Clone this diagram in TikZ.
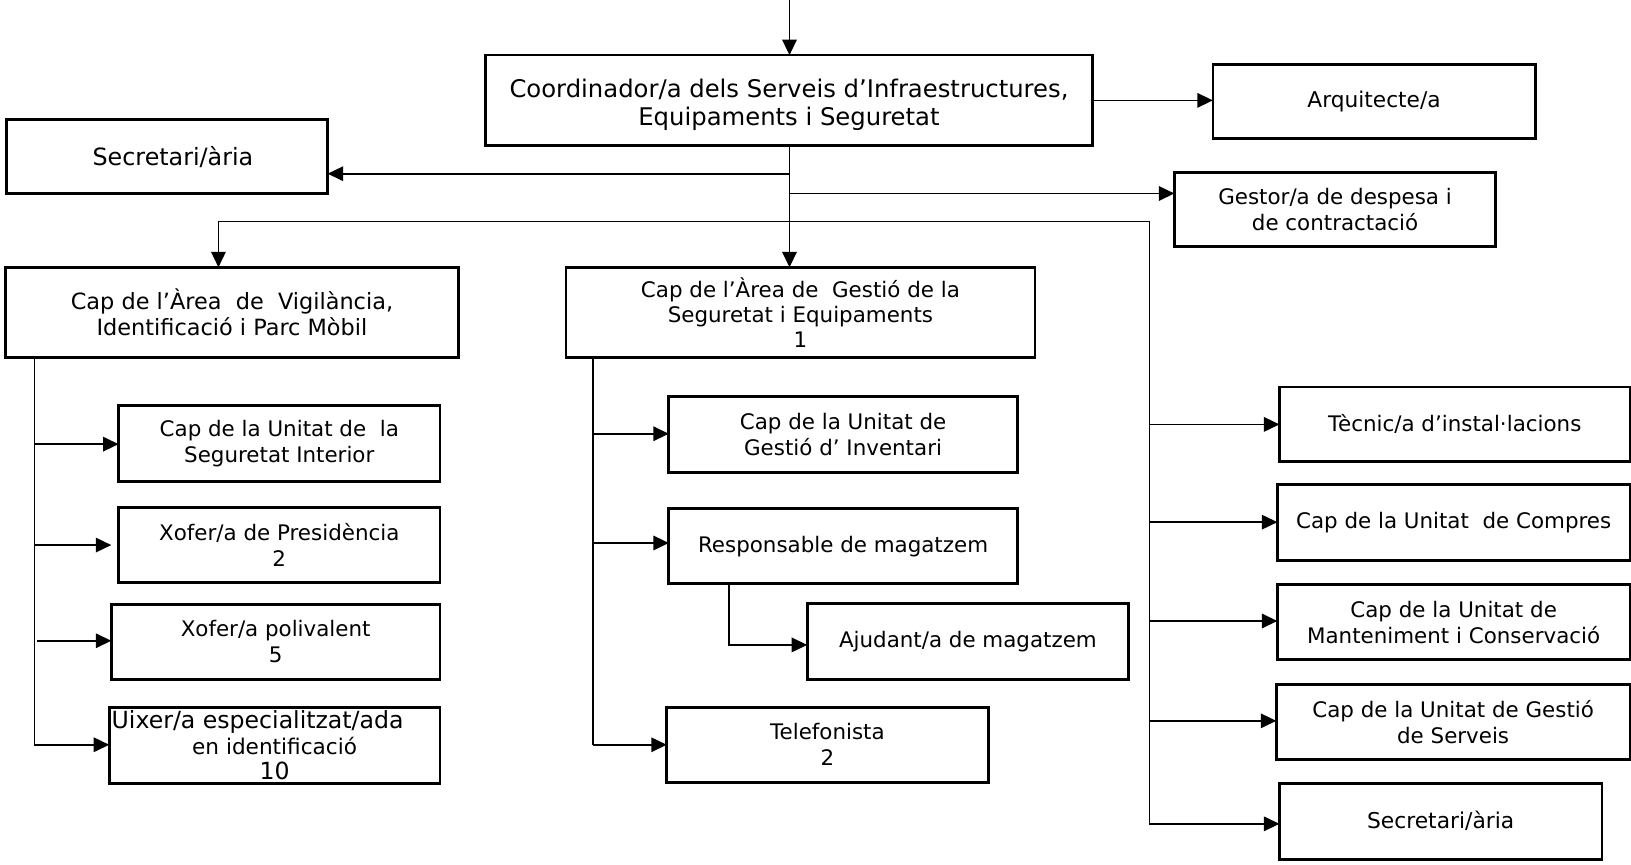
\documentclass[tikz,border=0pt]{standalone}
\usepackage{fontspec}
\setmainfont{DejaVu Sans}
\usetikzlibrary{arrows.meta}
\newcommand{\fsz}[2]{\fontsize{#1}{#2}\selectfont}
\begin{document}
\begin{tikzpicture}[x=1.0402pt,y=-1.0402pt,
  box/.style={draw, line width=2.7pt, inner sep=0pt, outer sep=0pt, align=center,
    font=\fsz{21.4}{26}},
  spanbox/.style n args={4}{at={({(#1+#3)/2},{(#2+#4)/2})},
    minimum width={(#3-#1)*1.0402pt}, minimum height={(#4-#2)*1.0402pt}},
  conn/.style={line width=1.6pt},
  thinconn/.style={line width=1.2pt},
  arr/.style={line width=1.6pt, -{Triangle[length=15.5pt,width=14.5pt]}}]
\useasboundingbox (0,0) rectangle (1568,831);
% boxes
\node[box, spanbox={467}{53}{1050}{140}, font=\fsz{24.3}{28}] (coord) {\rule{0pt}{28pt}Coordinador/a dels Serveis d’Infraestructures,\\Equipaments i Seguretat};
\node[box, spanbox={1166}{62}{1476}{133}, font=\fsz{21.7}{26}] (arq) {Arquitecte/a};
\node[box, spanbox={6}{115}{315}{186}, font=\fsz{23.8}{26}] (sec1) {\hspace*{12pt}\rule{0pt}{21pt}Secretari/ària};
\node[box, spanbox={1129}{166}{1438}{237}] (gest) {Gestor/a de despesa i\\de contractació};
\node[box, spanbox={5}{257}{441}{344}, font=\fsz{22.4}{26}] (capV) {Cap de l’Àrea~ de~ Vigilància,\\Identificació i Parc Mòbil};
\node[box, spanbox={544}{257}{995}{344}, font=\fsz{21.4}{25}] (capG) {Cap de l’Àrea de~ Gestió de la\\Seguretat i Equipaments\\1};
\node[box, spanbox={114}{390}{423}{463}] (unS) {Cap de la Unitat de~ la\\Seguretat Interior};
\node[box, spanbox={114}{488}{423}{560}] (xofP) {Xofer/a de Presidència\\2};
\node[box, spanbox={107}{581}{423}{653}] (xofV) {Xofer/a polivalent\\5};
\node[box, spanbox={105}{680}{423}{753}, font=\fsz{23.6}{25.5}] (uix) {Uixer/a especialitzat/ada\hspace*{34pt}\\{\fsz{21.6}{25.5}en identificació}\\10};
\node[box, spanbox={643}{381}{978}{454}] (inv) {Cap de la Unitat de\\Gestió d’ Inventari};
\node[box, spanbox={643}{489}{978}{561}] (resp) {Responsable de magatzem};
\node[box, spanbox={776}{580}{1085}{653}] (ajud) {Ajudant/a de magatzem};
\node[box, spanbox={641}{680}{950}{752}] (tel) {Telefonista\\2};
\node[box, spanbox={1230}{372}{1567}{444}] (tec) {Tècnic/a d’instal·lacions};
\node[box, spanbox={1228}{466}{1567}{539}] (comp) {Cap de la Unitat~ de Compres};
\node[box, spanbox={1228}{562}{1567}{634}] (mant) {Cap de la Unitat de\\Manteniment i Conservació};
\node[box, spanbox={1227}{658}{1567}{730}] (serv) {Cap de la Unitat de Gestió\\de Serveis};
\node[box, spanbox={1230}{753}{1540}{826}, font=\fsz{21.8}{26}] (sec2) {Secretari/ària};
% top
\coordinate (top) at (759,0);
\draw[arr] (top) -- (top |- coord.north);
\draw[arr] (coord.east) -- (coord.east -| arq.west);
% trunk
\draw[arr] (coord.south -| top) -- (top |- capG.north);
\coordinate (j1) at (759,167);
\draw[arr] (j1) -- (j1 -| sec1.east);
\coordinate (j2) at (759,186);
\draw[arr] (j2) -- (j2 -| gest.west);
\coordinate (j3) at (759,213);
\coordinate (b1) at (210,213);
\coordinate (b2) at (1105,213);
\draw[arr] (j3) -- (b1) -- (b1 |- capV.north);
\draw[thinconn] (j3) -- (b2) -- (1105,792);
% left branch
\draw[conn] (33,344) -- (33,716);
\draw[arr] (33,427) -- (unS.west |- 33,427);
\draw[arr] (33,524) -- (107,524);
\draw[arr] (36,616) -- (xofV.west |- 36,616);
\draw[arr] (33,716) -- (uix.west |- 33,716);
% middle branch
\draw[conn] (570,344) -- (570,716);
\draw[arr] (570,417) -- (inv.west |- 570,417);
\draw[arr] (570,522) -- (resp.west |- 570,522);
\draw[arr] (570,716) -- (tel.west |- 570,716);
\draw[arr] (701,561) -- (701,620) -- (ajud.west |- 701,620);
% right branch
\draw[arr] (1105,408) -- (tec.west |- 1105,408);
\draw[arr] (1105,502) -- (comp.west |- 1105,502);
\draw[arr] (1105,597) -- (mant.west |- 1105,597);
\draw[arr] (1105,693) -- (serv.west |- 1105,693);
\draw[arr] (1105,792) -- (sec2.west |- 1105,792);
\end{tikzpicture}
\end{document}
